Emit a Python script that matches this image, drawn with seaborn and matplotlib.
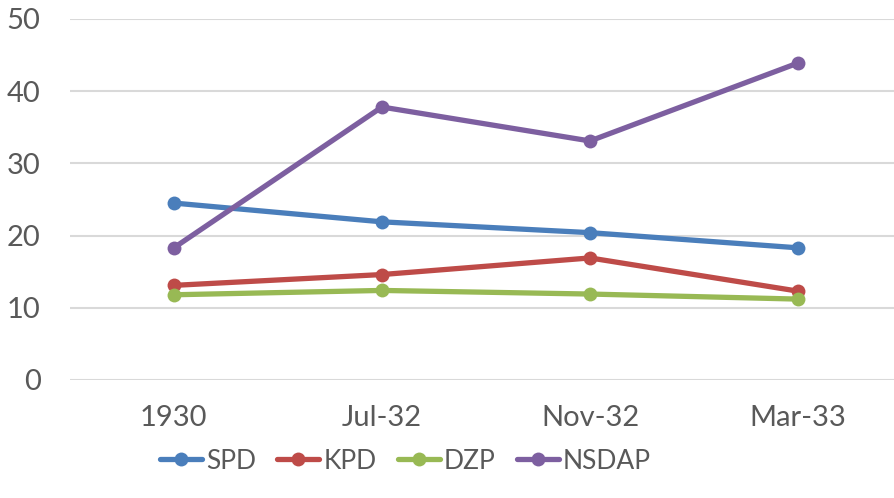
import matplotlib
matplotlib.use("Agg")
import matplotlib.pyplot as plt
import seaborn as sns
import pandas as pd

elections = ['1930', 'Jul-32', 'Nov-32', 'Mar-33']
spd = [24.5, 21.9, 20.4, 18.3]
kpd = [13.1, 14.6, 16.9, 12.3]
dzp = [11.8, 12.4, 11.9, 11.2]
nsdap = [18.3, 37.8, 33.1, 43.9]

parties = ['SPD', 'KPD', 'DZP', 'NSDAP']
colors = ['#4a7ebb', '#be4b48', '#98b954', '#7d5fa0']

df = pd.DataFrame({'Election': elections * 4,
                   'Share': spd + kpd + dzp + nsdap,
                   'Party': [p for p in parties for _ in elections]})

sns.set_style('white')
plt.rcParams['font.family'] = ['Lato', 'DejaVu Sans']

fig = plt.figure(figsize=(8.95, 4.98), dpi=100)
ax = fig.add_axes([0.078, 0.237, 0.93, 0.725])

sns.lineplot(data=df, x='Election', y='Share', hue='Party', hue_order=parties,
             palette=colors, marker='o', markersize=10, markeredgewidth=0,
             linewidth=3.8, sort=False, ax=ax)

ax.set_ylim(0, 50)
ax.set_xlim(-0.5, 3.5)
ax.set_yticks(range(0, 51, 10))
ax.grid(axis='y', color='#d9d9d9', linewidth=1.5)
ax.set_axisbelow(True)
for s in ax.spines.values():
    s.set_visible(False)
ax.set_xlabel('')
ax.set_ylabel('')
ax.tick_params(axis='y', labelsize=21, labelcolor='#595959', length=0, pad=21)
ax.tick_params(axis='x', labelsize=21, labelcolor='#595959', length=0, pad=18)

handles, labels = ax.get_legend_handles_labels()
ax.get_legend().remove()
fig.legend(handles, labels, loc='center', bbox_to_anchor=(0.453, 0.074), ncol=4,
           frameon=False, fontsize=19, labelcolor='#595959', handlelength=1.6,
           handletextpad=0.15, columnspacing=0.8, borderaxespad=0)

fig.savefig('out.png', dpi=100)
